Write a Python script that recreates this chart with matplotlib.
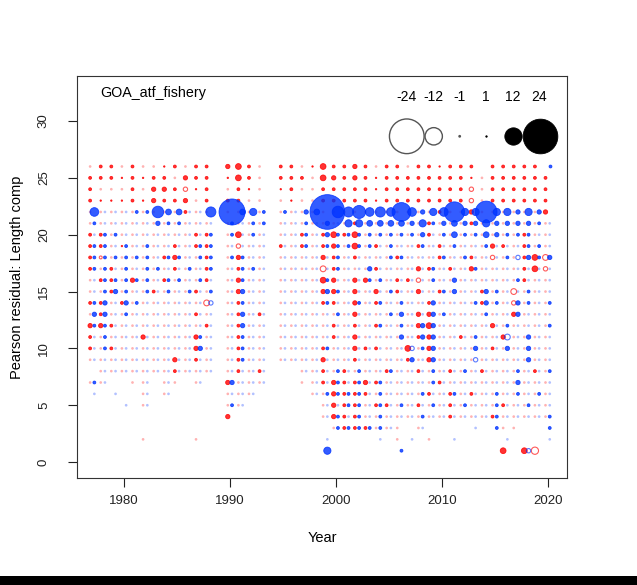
import matplotlib
matplotlib.use("Agg")
import matplotlib.pyplot as plt
from matplotlib.patches import Rectangle

#=======================================
# Data
#=======================================
# years with samples (1989 and 1994 missing)
years = [1977, 1978, 1979, 1980, 1981, 1982, 1983, 1984, 1985, 1986, 1987, 1988,
         1990, 1991, 1992, 1993,
         1995, 1996, 1997, 1998, 1999, 2000, 2001, 2002, 2003, 2004, 2005, 2006,
         2007, 2008, 2009, 2010, 2011, 2012, 2013, 2014, 2015, 2016, 2017, 2018, 2019, 2020]

# one string per length bin, one char per year
# "." none, "1"-"9" positive, "A".. = 10.., "a".."i" = -1..-9
female_resid = {
    26: "a22a2aa12a22 342a 22a142232a22 a221222.22222.",
    25: "22212122a322 142a 222a43232122 2222221a222222",
    24: "2aaa2a332c12 a21a 12aa22222122 222222ca222222",
    23: "2111213223a2 22aa a1aa22222122 222222ca222222",
    22: "aaaaaaaaa2aa aaaa aaaaaaaaaaaa aaa2aa3aaaaaa3",
    21: "aaaaaaaaaaaa aaaa aaaaaaa2aaaa aa2aaa2aaaaaaa",
    20: "22aaaaaaaa22 a4aa aa2a2424aaaa aa2aaaaaaaa2aa",
    19: "22a1aaaa2a22 acaa 2a2a23a4a2aa a2a2aaaa32a2aa",
    18: "2baaaaa23aa2 a3aa aaaa32a2aaa2 aaa2aa2acaa24d",
    17: "2a2aaaaa2aa2 a2aa aaaad2aaa2aa a32a2a3aaaa24c",
    16: "a22a3aa2aaa2 a3aa aaaa43a33aa2 2caaaaaaaaa2aa",
    15: "aa2aaa2aaa2a a3aa aaaa33a3a3a2 a3a2aaa2aadaaa",
    14: "22a2aaaaaaad a2aa aaaa22a3a2aa aa2aaaa2aacaaa",
    13: "a2aaaaaaaa2a a2a2 aaaaaaa3aaaa a33aaaaaaa3aaa",
    12: "332aaaaaaaa2 a2aa aaaaa2a2a2aa a34aaaaa3aaaaa",
    11: "2aaaa3aaaa3a a2aa aaaaa2a3aaaa a23aa2aaa3aaaa",
    10: "2a2aaaaaaa3a a2aa aaaa2aa322aa 4a3aaaaa2aaaaa",
    9:  "aaaaaaaa3a2a a2aa aaaa3aa2aaaa 2a3aaaaaaaaaaa",
    8:  ".aaaaaaa2aaa a2a2 ..aa2a2aaa2a a2aa2aa2aaaa2a",
    7:  "aa..aa.aa.a. 3aaa ..aa232232aa aaa2aaaaaaaaaa",
    6:  ".....a.a.... aaa. ...aa3222aaa aa2a2a2aaaaaaa",
    5:  ".....a...... aa.. ....a322a22a a2aa2aaaa2aaaa",
    4:  "............ 3... ....a322aaaa aaaa2aaa2aaaaa",
    3:  "............ .... .....a222aaa .a.......aa...",
    2:  ".....a....a. .... ...........a ..a...........",
    1:  "............ .... ............ .........4.4e.",
}
male_resid = {
    26: "............ .... ............ .............2",
    25: "............ .... ............ ..............",
    24: "............ .... ............ ..............",
    23: "............ .... ............ ..............",
    22: "6aaa22844aa7 I452 2a34O879676D 6356E55F55353.",
    21: "2aaaaa322aaa 2a22 aa2a3a554444 3523433533332a",
    20: "a22aaaaaaaa2 2a2a aa2a32222222 23a242243222aa",
    19: "22a2a2aaaa22 aaaa aa2a22222a2a a2aa2aa2aaa22a",
    18: "222222a22a22 22aa aaaaa2aaaa22 aaa2a2aaa2c323",
    17: "22a2a22aa2a2 a22a aaaaa2aa3aaa aa2aaa2aaaaaaa",
    16: "a22222a22a2a a2aa aaaa2aaa22aa aa2a3aaaaa2aaa",
    15: "a232a2a2a2a2 a3aa aaaa32aaaa2a aaa23aa32aa2aa",
    14: "23a32aaaaaac a2aa aaaa2aa2a2a2 aa3aaa232a32a2",
    13: "33a2aaaaaaaa a3aa aaaaa2aaaa23 aa32aaa2aa3aaa",
    12: "22aaaaaaaaaa a3aa aaaaaaaaa2a2 a33aaaaaa2aaa2",
    11: "a2aaaaaaaa2a a2aa aaaaaaaaaaa3 a33aaa2aada3aa",
    10: "a2aaaaaaaa3a a2aa aaaa2aaaaaaa c23aaa3aa3a3aa",
    9:  "aaaaaaaaaaaa a2aa aaaaaaaaaaaa 3a3aaacaaaa3aa",
    8:  ".aaaaaaaaaaa aaaa ..aaa2a2aa2a aa2aa2aaaa2aa2",
    7:  "2a...a.a..a. 3aaa ...aa2a2a2aa aa2aaaaaaa3aaa",
    6:  "a.a..a.a.... aaa. ...a2222a2aa a2aa2aaa2a2a2a",
    5:  "...a.a...... 2a.. ....aa22a2a2 aa2aa2aa2aa2aa",
    4:  "............ .... ....a2a2a2aa a2aaaaaa2aaaa2",
    3:  "............ .... .....22222a. .a....a.2....2",
    2:  "............ .... ....a....a.. a...a....a...a",
    1:  "............ .... ....5......2 ...........c..",
}

legend_vals = [-24, -12, -1, 1, 12, 24]
panel_label = "GOA_atf_fishery"


def code_value(c):
    if c == ".":
        return None
    if c.isdigit():
        return int(c)
    if c.isupper():
        return 10 + ord(c) - ord("A")
    return -(1 + ord(c) - ord("a"))


def bubble_size(z):
    return (1.04 * abs(z)) ** 2


#=======================================
# Plot
#=======================================
plt.rcParams["font.family"] = ["Liberation Sans", "DejaVu Sans"]
fig = plt.figure(figsize=(6.37, 5.85), dpi=100)
ax = fig.add_axes([77 / 637, 1 - 478 / 585, 490 / 637, 402 / 585])

red = (1.0, 0.0, 0.0)
blue = (0.0, 0.2, 1.0)

for resid, offset, col in [(female_resid, -0.2, red), (male_resid, 0.2, blue)]:
    for bin_, row in resid.items():
        row = row.replace(" ", "")
        assert len(row) == len(years), (bin_, len(row))
        xp, yp, sp, xn, yn, sn, xf, yf = [], [], [], [], [], [], [], []
        for yr, c in zip(years, row):
            z = code_value(c)
            if z is None:
                continue
            if z > 0:
                xp.append(yr + offset); yp.append(bin_); sp.append(bubble_size(z))
            elif z == -1:
                xf.append(yr + offset); yf.append(bin_)
            else:
                xn.append(yr + offset); yn.append(bin_); sn.append(bubble_size(z))
        ax.scatter(xp, yp, s=sp, facecolor=col + (0.8,), edgecolor=col + (0.85,),
                   linewidth=0.6, zorder=3)
        ax.scatter(xn, yn, s=sn, facecolor="none", edgecolor=col + (0.65,),
                   linewidth=0.8, zorder=3)
        # residuals near -1: tiny pale open circles
        ax.scatter(xf, yf, s=bubble_size(1), facecolor="none",
                   edgecolor=col + (0.3,), linewidth=0.9, zorder=3)

# legend of bubble sizes
leg_x = [0.673, 0.728, 0.781, 0.834, 0.890, 0.944]
for lx, v in zip(leg_x, legend_vals):
    ax.text(lx, 0.948, str(v), transform=ax.transAxes, ha="center", va="center",
            fontsize=10)
    if v > 0:
        ax.scatter([lx], [0.85], s=bubble_size(v), transform=ax.transAxes,
                   facecolor="black", edgecolor="black", linewidth=0.6, zorder=4)
    else:
        ax.scatter([lx], [0.85], s=bubble_size(v), transform=ax.transAxes,
                   facecolor="none", edgecolor="#555555", linewidth=1.0, zorder=4)

ax.text(0.047, 0.958, panel_label, transform=ax.transAxes, ha="left",
        va="center", fontsize=10.3)

ax.set_xlim(1975.56, 2021.83)
ax.set_ylim(-1.4, 33.96)
ax.set_xticks([1980, 1990, 2000, 2010, 2020])
ax.set_yticks([0, 5, 10, 15, 20, 25, 30])
ax.tick_params(axis="both", direction="out", length=6.5, width=0.8,
               labelsize=9.5, colors="#222222")
ax.tick_params(axis="x", pad=6)
ax.tick_params(axis="y", pad=13)
for lab in ax.get_yticklabels():
    lab.set_rotation(90)
    lab.set_va("center")
for sp_ in ax.spines.values():
    sp_.set_linewidth(0.8)
    sp_.set_color("#333333")

ax.set_xlabel("Year", fontsize=10.5)
ax.set_ylabel("Pearson residual: Length comp", fontsize=10.5)
ax.xaxis.set_label_coords(0.5, -0.133)
ax.yaxis.set_label_coords(-0.108, 0.5)

# black strip along the bottom edge of the image
fig.patches.append(Rectangle((0, 0), 1, 9 / 585, transform=fig.transFigure,
                             facecolor="black", edgecolor="none"))

fig.savefig("out.png", dpi=100)
